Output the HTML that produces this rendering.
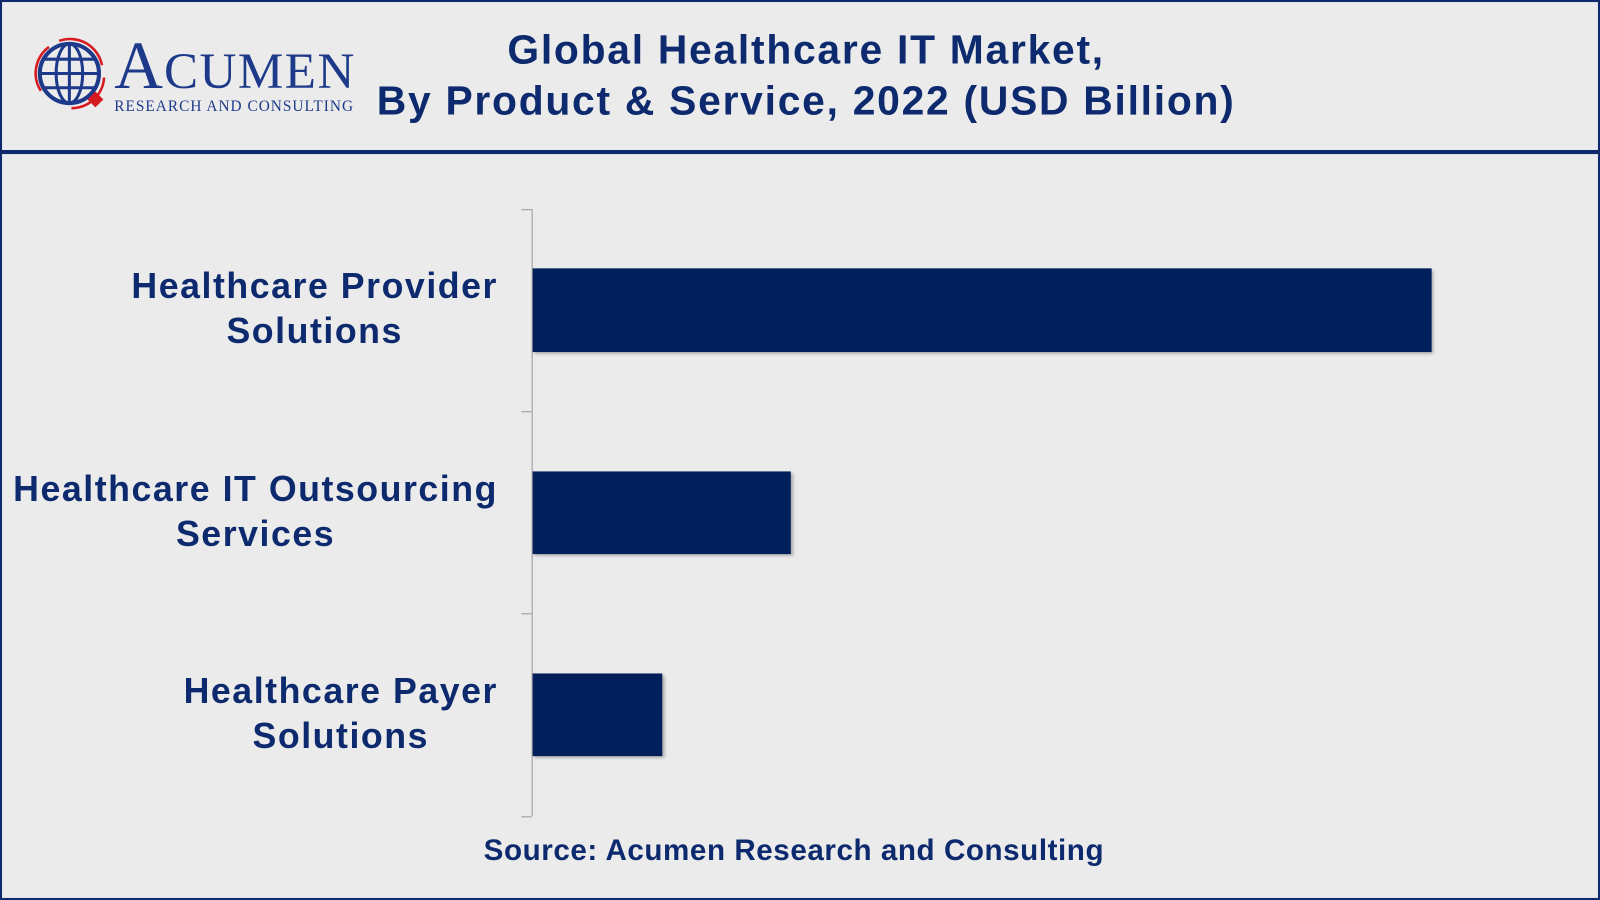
<!DOCTYPE html>
<html><head><meta charset="utf-8"><style>
html,body{margin:0;padding:0;width:1600px;height:900px;overflow:hidden;background:#ebebeb}
#c{position:absolute;left:0;top:0;width:1568px;height:882px;transform:scale(1.020408);transform-origin:0 0;background:#ebebeb;font-family:"Liberation Sans",sans-serif;color:#0d2a6e}
.b{position:absolute;background:#001f5b;box-shadow:2px 2px 3px rgba(0,0,0,.3)}
.l{position:absolute;right:1080px;text-align:center;font-weight:bold;font-size:35px;line-height:44px;color:#0d2a6e;letter-spacing:1.5px}
.t{position:absolute;left:511px;width:10px;height:1px;background:#999}
</style></head><body><div id="c">
<div style="position:absolute;left:0;top:0;width:1564px;height:878px;border:2px solid #0d2a6e"></div>
<div style="position:absolute;left:0;top:147px;width:1568px;height:4px;background:#0d2a6e"></div>
<svg style="position:absolute;left:30px;top:34px" width="80" height="80" viewBox="0 0 80 80">
<path d="M10 55 A32 32 0 0 1 18 12 M28 6 A32 32 0 0 1 70 30 M72 42 A32 32 0 0 1 40 72" fill="none" stroke="#d71920" stroke-width="2.5"/>
<circle cx="38" cy="38" r="29" fill="none" stroke="#1d3a8a" stroke-width="4"/>
<ellipse cx="38" cy="38" rx="13" ry="29" fill="none" stroke="#1d3a8a" stroke-width="3"/>
<line x1="9" y1="38" x2="67" y2="38" stroke="#1d3a8a" stroke-width="3"/>
<line x1="13" y1="24" x2="63" y2="24" stroke="#1d3a8a" stroke-width="3"/>
<line x1="13" y1="52" x2="63" y2="52" stroke="#1d3a8a" stroke-width="3"/>
<line x1="38" y1="9" x2="38" y2="67" stroke="#1d3a8a" stroke-width="3"/>
<rect x="58" y="58" width="11" height="11" fill="#d71920" transform="rotate(45 63.5 63.5)"/>
</svg>
<div style="position:absolute;left:112px;top:32px;font-family:'Liberation Serif',serif;font-size:66px;line-height:66px;color:#1d3a8a;letter-spacing:1px">A<span style="font-size:50px;letter-spacing:1.5px">CUMEN</span></div>
<div style="position:absolute;left:112px;top:97px;font-family:'Liberation Serif',serif;font-size:15px;color:#1d3a8a;letter-spacing:1px">RESEARCH AND CONSULTING</div>
<div style="position:absolute;left:350px;width:880px;top:24px;text-align:center;font-weight:bold;font-size:40px;line-height:50px;letter-spacing:1.7px">Global Healthcare IT Market,<br>By Product &amp; Service, 2022 (USD Billion)</div>
<div style="position:absolute;left:521px;top:205px;width:1px;height:595px;background:#999"></div>
<div class="t" style="top:205px"></div><div class="t" style="top:403px"></div><div class="t" style="top:601px"></div><div class="t" style="top:800px"></div>
<div class="b" style="left:522px;top:263px;width:881px;height:82px"></div>
<div class="b" style="left:522px;top:462px;width:253px;height:81px"></div>
<div class="b" style="left:522px;top:660px;width:127px;height:81px"></div>
<div class="l" style="top:259px">Healthcare Provider<br>Solutions</div>
<div class="l" style="top:458px">Healthcare IT Outsourcing<br>Services</div>
<div class="l" style="top:656px">Healthcare Payer<br>Solutions</div>
<div style="position:absolute;left:0;width:1556px;top:818px;text-align:center;font-weight:bold;font-size:29px;letter-spacing:0.55px">Source: Acumen Research and Consulting</div>
</div></body></html>
